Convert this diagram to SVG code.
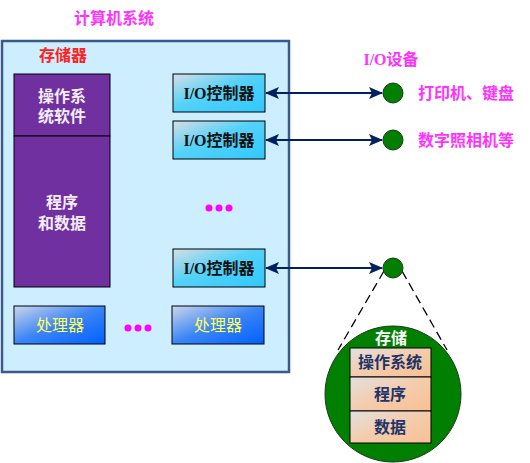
<svg xmlns="http://www.w3.org/2000/svg" width="530" height="463" viewBox="0 0 530 463">
<style>
.cjk{font-family:"Liberation Serif","Noto Sans CJK SC",serif;}
.title{font-size:16px;font-weight:bold;fill:#FF33FF;}
.red{font-size:16px;font-weight:bold;fill:#FF2020;}
.white{font-size:16px;font-weight:bold;fill:#F4EEF8;}
.io{font-size:16px;font-weight:bold;fill:#111;}
.proc{font-size:16px;fill:#FFFF55;}
.inner{font-size:16px;font-weight:bold;fill:#1F3468;}
.iobox{fill:url(#gIO);stroke:#000;stroke-width:1;}
.pbox{fill:url(#gP);stroke:#000;stroke-width:1;}
.ibox{fill:url(#gIn);stroke:#000;stroke-width:1;}
.dev{fill:#007F00;stroke:#1A3A1A;stroke-width:1;}
.conn{stroke:#002060;stroke-width:2.2;fill:none;marker-start:url(#ah);marker-end:url(#ah);}
.dash{stroke:#000;stroke-width:1.3;stroke-dasharray:9,5;fill:none;}
.dot{fill:#FF00FF;}
</style>
<defs>
<linearGradient id="gIO" x1="0" y1="0" x2="1" y2="1">
<stop offset="0" stop-color="#D6DEE6"/>
<stop offset="0.45" stop-color="#55D2F8"/>
<stop offset="1" stop-color="#2FC8FF"/>
</linearGradient>
<linearGradient id="gP" x1="0" y1="0" x2="1" y2="1">
<stop offset="0" stop-color="#CCD6EA"/>
<stop offset="0.5" stop-color="#3A84F6"/>
<stop offset="1" stop-color="#0060FF"/>
</linearGradient>
<linearGradient id="gIn" x1="0" y1="0" x2="1" y2="1">
<stop offset="0" stop-color="#E2E0E0"/>
<stop offset="0.5" stop-color="#F4CCAC"/>
<stop offset="1" stop-color="#F8C094"/>
</linearGradient>
<marker id="ah" viewBox="0 0 14 12" refX="13" refY="6" markerWidth="14" markerHeight="12" markerUnits="userSpaceOnUse" orient="auto-start-reverse">
<path d="M0,0 L14,6 L0,12 L3,6 Z" fill="#002060"/>
</marker>
</defs>

<text class="cjk title" x="114" y="24" text-anchor="middle">计算机系统</text>

<g id="computer">
<rect x="2" y="41" width="287" height="331" fill="#CCEEFF" stroke="#3A5A8A" stroke-width="2.5"/>
<text class="cjk red" x="63" y="61" text-anchor="middle">存储器</text>
</g>

<g id="memory-os">
<rect x="14" y="74" width="96" height="62" fill="#7030A0" stroke="#000" stroke-width="1"/>
<text class="cjk white" x="62" y="102" text-anchor="middle">操作系</text>
<text class="cjk white" x="62" y="122" text-anchor="middle">统软件</text>
</g>
<g id="memory-data">
<rect x="14" y="136" width="96" height="151" fill="#7030A0" stroke="#000" stroke-width="1"/>
<text class="cjk white" x="62" y="208" text-anchor="middle">程序</text>
<text class="cjk white" x="62" y="229" text-anchor="middle">和数据</text>
</g>

<g id="io1">
<rect class="iobox" x="173" y="74" width="92" height="38"/>
<text class="cjk io" x="219" y="99" text-anchor="middle">I/O控制器</text>
</g>
<g id="io2">
<rect class="iobox" x="173" y="121" width="92" height="38"/>
<text class="cjk io" x="219" y="146" text-anchor="middle">I/O控制器</text>
</g>
<g id="io-dots">
<circle class="dot" cx="209" cy="208" r="3.5"/>
<circle class="dot" cx="219" cy="208" r="3.5"/>
<circle class="dot" cx="229" cy="208" r="3.5"/>
</g>
<g id="io3">
<rect class="iobox" x="173" y="249" width="92" height="38"/>
<text class="cjk io" x="219" y="274" text-anchor="middle">I/O控制器</text>
</g>

<g id="proc1">
<rect class="pbox" x="14" y="306" width="91" height="38"/>
<text class="cjk proc" x="60" y="331" text-anchor="middle">处理器</text>
</g>
<g id="proc-dots">
<circle class="dot" cx="128" cy="328" r="3.5"/>
<circle class="dot" cx="138" cy="328" r="3.5"/>
<circle class="dot" cx="148" cy="328" r="3.5"/>
</g>
<g id="proc2">
<rect class="pbox" x="172" y="306" width="92" height="38"/>
<text class="cjk proc" x="218" y="331" text-anchor="middle">处理器</text>
</g>

<text class="cjk title" x="391" y="65" text-anchor="middle">I/O设备</text>

<g id="connectors">
<line class="conn" x1="266" y1="93" x2="382" y2="93"/>
<line class="conn" x1="266" y1="140" x2="382" y2="140"/>
<line class="conn" x1="266" y1="268" x2="382" y2="268"/>
<line class="dash" x1="384" y1="271" x2="338" y2="350"/>
<line class="dash" x1="402" y1="271" x2="447" y2="350"/>
</g>

<g id="dev1">
<circle class="dev" cx="393" cy="93" r="10"/>
<text class="cjk title" x="418" y="99">打印机、键盘</text>
</g>
<g id="dev2">
<circle class="dev" cx="393" cy="140" r="10"/>
<text class="cjk title" x="418" y="146">数字照相机等</text>
</g>
<g id="dev3">
<circle class="dev" cx="393" cy="268" r="10"/>
</g>

<g id="storage">
<circle cx="393" cy="394" r="68" fill="#007F00" stroke="#1A3A1A" stroke-width="1"/>
<text class="cjk" x="391" y="344" text-anchor="middle" font-size="16" font-weight="bold" fill="#FFFFFF">存储</text>
<rect class="ibox" x="350" y="348" width="81" height="29"/>
<text class="cjk inner" x="390" y="368" text-anchor="middle">操作系统</text>
<rect class="ibox" x="350" y="377" width="81" height="34"/>
<text class="cjk inner" x="390" y="400" text-anchor="middle">程序</text>
<rect class="ibox" x="350" y="411" width="81" height="32"/>
<text class="cjk inner" x="390" y="433" text-anchor="middle">数据</text>
</g>
</svg>
